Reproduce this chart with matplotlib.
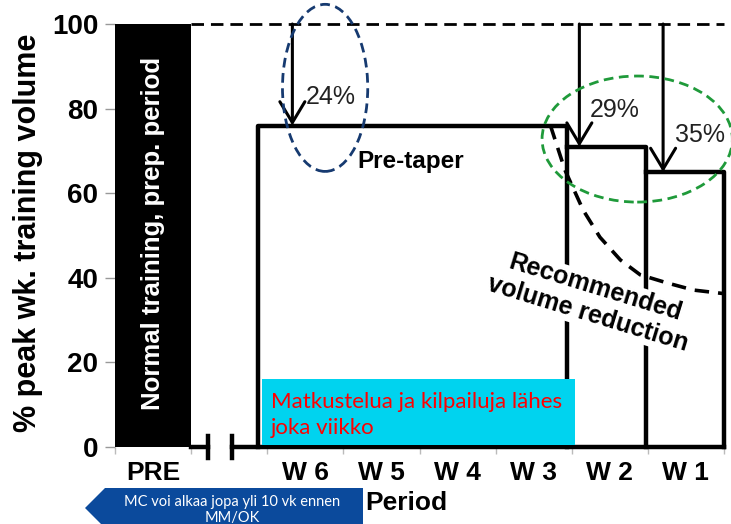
import numpy as np
import matplotlib.pyplot as plt
from matplotlib.patches import Ellipse, Polygon, Rectangle

plt.rc('font', family='Liberation Sans')

W, H = 731, 524

categories = ['PRE', '', 'W 6', 'W 5', 'W 4', 'W 3', 'W 2', 'W 1']
pre_volume = 100
reductions = [24, 29, 35]               # pre-taper, W 2, W 1
levels = [pre_volume - r for r in reductions]
phase_edges = [1.38, 5.44, 6.48, 7.5]   # pre-taper start, W3/W2, W2/W1, end
break_x = [0.72, 1.04]

# recommended (progressive) reduction curve
rec_x = [5.22, 5.41, 5.65, 5.87, 6.14, 6.40, 6.75, 7.10, 7.48]
rec_y = [76.0, 65.5, 56.0, 49.6, 44.2, 40.7, 38.8, 37.1, 36.3]

arrow_x = [1.83, 5.6, 6.7]
pct_pos = [(2.33, 82.7), (6.07, 79.7), (7.19, 73.8)]


def px(x, y):
    return x / W, 1 - y / H


fig = plt.figure(figsize=(W / 100, H / 100), dpi=100)
ax = fig.add_axes([115 / W, 1 - 447 / H, (724 - 115) / W, (447 - 24) / H])
ax.set_xlim(-0.5, 7.5)
ax.set_ylim(0, 100)

# PRE bar
ax.bar(0, pre_volume, width=1.0, color='black', zorder=3)
ax.text(0, 50.6, 'Normal training, prep. period', rotation=90, color='white',
        fontsize=18.5, fontweight='bold', ha='center', va='center', zorder=4)

# 100 % reference
ax.plot([0.5, phase_edges[-1]], [pre_volume, pre_volume], color='black', lw=2,
        ls=(0, (4.5, 2.5)), clip_on=False, zorder=2)

lw = 3.2
# base line with axis break
ax.plot([0.5, break_x[0]], [0, 0], color='black', lw=lw, clip_on=False, zorder=3)
ax.plot([break_x[1], phase_edges[-1]], [0, 0], color='black', lw=lw, clip_on=False, zorder=3)
for bx in break_x:
    ax.plot([bx, bx], [-2.5, 2.5], color='black', lw=lw, clip_on=False, zorder=3)

# step blocks
e = phase_edges
ax.plot([e[0], e[0], e[1], e[1]], [0, levels[0], levels[0], 0], color='black', lw=lw,
        clip_on=False, zorder=3)
ax.plot([e[1], e[2], e[2]], [levels[1], levels[1], 0], color='black', lw=lw,
        clip_on=False, zorder=3)
ax.plot([e[2], e[3], e[3]], [levels[2], levels[2], 0], color='black', lw=lw,
        clip_on=False, zorder=3)

ax.plot(rec_x, rec_y, color='black', lw=2.6, ls=(0, (4, 2.5)), zorder=3)

# reduction arrows
for xa, lev, r, (tx, ty) in zip(arrow_x, levels, reductions, pct_pos):
    ax.annotate('', xy=(xa, lev), xytext=(xa, pre_volume),
                arrowprops=dict(arrowstyle='->,head_length=0.75,head_width=0.45',
                                lw=2.2, color='black', shrinkA=0, shrinkB=0,
                                mutation_scale=20), zorder=4)
    ax.text(tx, ty, f'{r}%', fontsize=18, color='#222222', ha='center', va='center', zorder=4)

ax.text(3.39, 67.4, 'Pre-taper', fontsize=17.5, fontweight='bold', ha='center', va='center')

ax.text(5.76, 34.6, 'Recommended\nvolume reduction', rotation=-17, rotation_mode='anchor',
        fontsize=18, fontweight='bold', ha='center', va='center', multialignment='center',
        linespacing=1.2, zorder=5,
        bbox=dict(boxstyle='square,pad=0.05', fc='white', ec='none'))

ax.add_patch(Ellipse((2.26, 84.9), 1.12, 39.5, fill=False, ec='#163a70', lw=2,
                     ls=(0, (3.5, 2)), clip_on=False, zorder=5))
ax.add_patch(Ellipse((6.36, 72.8), 2.5, 29.8, fill=False, ec='#1f9a3a', lw=2,
                     ls=(0, (3.5, 2)), clip_on=False, zorder=5))

# axes styling
for s in ax.spines.values():
    s.set_visible(False)
ax.set_yticks([0, 20, 40, 60, 80, 100])
ax.tick_params(axis='y', length=7, width=1, color='#999999', labelsize=20, pad=5)
ax.set_xticks(np.arange(-0.5, 8, 1))
ax.set_xticklabels([])
ax.set_xticks(np.arange(len(categories)), minor=True)
ax.set_xticklabels(categories, minor=True)
ax.tick_params(axis='x', which='major', length=5, width=1, color='#bbbbbb')
ax.tick_params(axis='x', which='minor', length=0, labelsize=19, pad=10)
for lbl in ax.get_yticklabels() + ax.get_xticklabels(minor=True):
    lbl.set_fontweight('bold')

ax.set_ylabel('% peak wk. training volume', fontsize=22, fontweight='bold')
ax.yaxis.set_label_coords(-0.118, 0.506)
ax.set_xlabel('Period', fontsize=19, fontweight='bold', va='top')
ax.xaxis.set_label_coords(0.479, -0.104)

# cyan note box
fig.add_artist(Rectangle(px(262, 445), (575 - 262) / W, (445 - 379) / H,
                         transform=fig.transFigure, fc='#00d3ef', ec='none', zorder=5))
fig.text(*px(271, 415), 'Matkustelua ja kilpailuja lähes\njoka viikko', color='#ff0000',
         fontsize=16, family='Lato', ha='left', va='center', linespacing=1.4, zorder=6)

# blue arrow box
fig.add_artist(Polygon([px(85, 508), px(105, 488), px(363, 488), px(363, 528), px(105, 528)],
                       closed=True, transform=fig.transFigure, fc='#0b4a9c', ec='none', zorder=5))
fig.text(*px(232, 510), 'MC voi alkaa jopa yli 10 vk ennen\nMM/OK', color='white',
         fontsize=10.5, family='Lato', ha='center', va='center', linespacing=1.1, zorder=6)

fig.savefig('out.png', dpi=100)
